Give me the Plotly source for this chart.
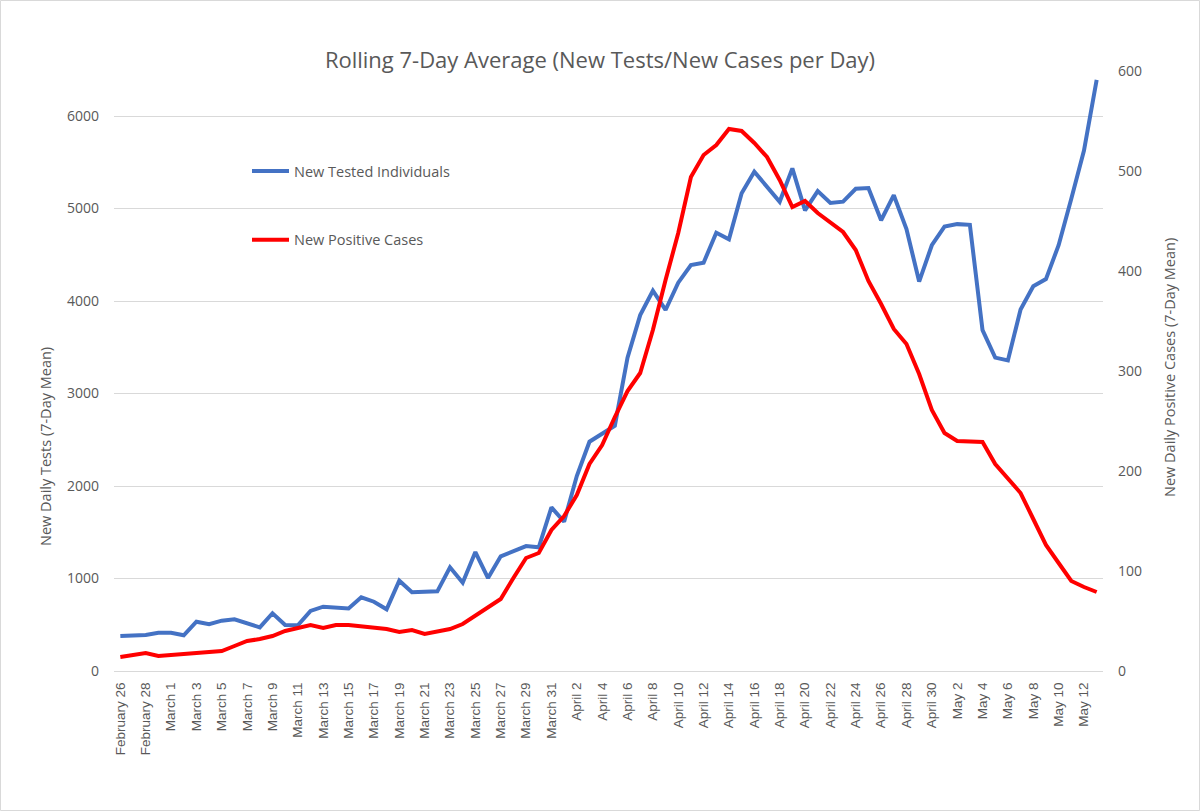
import datetime as dt
import plotly.graph_objects as go

# Categories: daily dates Feb 26 - May 13, 2020
start = dt.date(2020, 2, 26)
n_days = 78
categories = [(start + dt.timedelta(days=i)).strftime("%B ") + str((start + dt.timedelta(days=i)).day)
              for i in range(n_days)]
tick_labels = categories[::2]

new_tests = [378, 386, 390, 414, 414, 386, 533, 505, 544, 559,
             515, 472, 624, 497, 494, 649, 695, 688, 677, 797,
             749, 667, 976, 851, 851, 861, 1121, 955, 1286, 1005,
             1240, 1301, 1351, 1337, 1769, 1614, 2108, 2479, 2562, 2652,
             3387, 3848, 4111, 3903, 4198, 4389, 4414, 4738, 4667, 5164,
             5398, 5229, 5073, 5434, 4980, 5188, 5060, 5074, 5213, 5221,
             4873, 5144, 4777, 4210, 4603, 4804, 4831, 4823, 3685, 3388,
             3357, 3909, 4160, 4237, 4603, 5105, 5626, 6390]

new_cases = [14, 16, 18, 15, 16, 16, 17, 18, 20, 25,
             30, 32, 35, 40, 43, 46, 43, 46, 46, 45,
             43, 42, 39, 41, 37, 39, 42, 47, 55, 64,
             72, 93, 113, 118, 141, 155, 176, 207, 226, 254,
             280, 298, 341, 391, 438, 494, 516, 526, 542, 540,
             528, 514, 491, 464, 470, 458, 449, 439, 421, 390,
             367, 342, 327, 297, 261, 238, 230, 230, 229, 207,
             193, 178, 152, 126, 108, 90, 84, 79]

left_ticks = [0, 1000, 2000, 3000, 4000, 5000, 6000]
right_ticks = [0, 100, 200, 300, 400, 500, 600]

GRAY = "#595959"
GRID = "#D9D9D9"
FONT = "Open Sans"

fig = go.Figure()
fig.add_trace(go.Scatter(x=categories, y=new_tests, name="New Tested Individuals",
                         mode="lines", line=dict(color="#4472C4", width=4),
                         legendgroup="a", yaxis="y"))
fig.add_trace(go.Scatter(x=categories, y=new_cases, name="New Positive Cases",
                         mode="lines", line=dict(color="#FF0000", width=4),
                         legendgroup="b", yaxis="y2"))

L, R, T, B = 114, 97, 71, 140
W, H = 1200, 811
pw, ph = W - L - R, H - T - B
BOT = H - B  # pixel row of plot bottom


def px(x):
    return (x - L) / pw


def py(y):
    return (BOT - y) / ph


fig.update_layout(
    width=W, height=H,
    margin=dict(l=L, r=R, t=T, b=B, pad=0),
    paper_bgcolor="white", plot_bgcolor="white",
    font=dict(family=FONT, color=GRAY, size=14),
    title=dict(text="Rolling 7-Day Average (New Tests/New Cases per Day)",
               x=0.5, xanchor="center", xref="container",
               y=1 - 60 / H, yanchor="middle", yref="container",
               font=dict(family=FONT, size=22, color=GRAY)),
    showlegend=True,
    legend=dict(x=px(247), xanchor="left", y=py(155), yanchor="top",
                bgcolor="rgba(0,0,0,0)", traceorder="grouped", tracegroupgap=47,
                itemwidth=37,
                font=dict(family=FONT, size=14.5, color=GRAY)),
    xaxis=dict(type="category", range=[-0.5, n_days - 0.5],
               tickmode="array", tickvals=tick_labels, ticktext=tick_labels,
               tickangle=-90, showgrid=False, showline=True, linecolor=GRID, linewidth=1,
               ticks="", ticklabelstandoff=5,
               tickfont=dict(family="Liberation Sans", size=13.5, color=GRAY),
               zeroline=False),
    yaxis=dict(range=[0, 6000 * 600 / 555], tickvals=left_ticks,
               showgrid=True, gridcolor=GRID, gridwidth=1, zeroline=False,
               showline=False, ticks="", ticklabelstandoff=14,
               tickfont=dict(family=FONT, size=14, color=GRAY)),
    yaxis2=dict(range=[0, 600], tickvals=right_ticks, overlaying="y", side="right",
                showgrid=False, zeroline=False, showline=False, ticks="",
                ticklabelstandoff=14,
                tickfont=dict(family=FONT, size=14, color=GRAY)),
    annotations=[
        dict(text="New Daily Tests (7-Day Mean)", xref="paper", yref="paper",
             x=px(45), y=py(447), xanchor="center", yanchor="middle",
             textangle=-90, showarrow=False,
             font=dict(family=FONT, size=14.5, color=GRAY)),
        dict(text="New Daily Positive Cases (7-Day Mean)", xref="paper", yref="paper",
             x=px(1169), y=py(368), xanchor="center", yanchor="middle",
             textangle=-90, showarrow=False,
             font=dict(family=FONT, size=14.5, color=GRAY)),
    ],
)

# chart-area border
fig.add_shape(type="rect", xref="paper", yref="paper",
              x0=px(0.5), x1=px(W - 0.5), y0=py(H - 0.5), y1=py(0.5),
              line=dict(color=GRID, width=1), fillcolor="rgba(0,0,0,0)", layer="below")

fig.write_html("out.html", config={"displayModeBar": False},
               post_script="document.body.style.margin='0px';")
